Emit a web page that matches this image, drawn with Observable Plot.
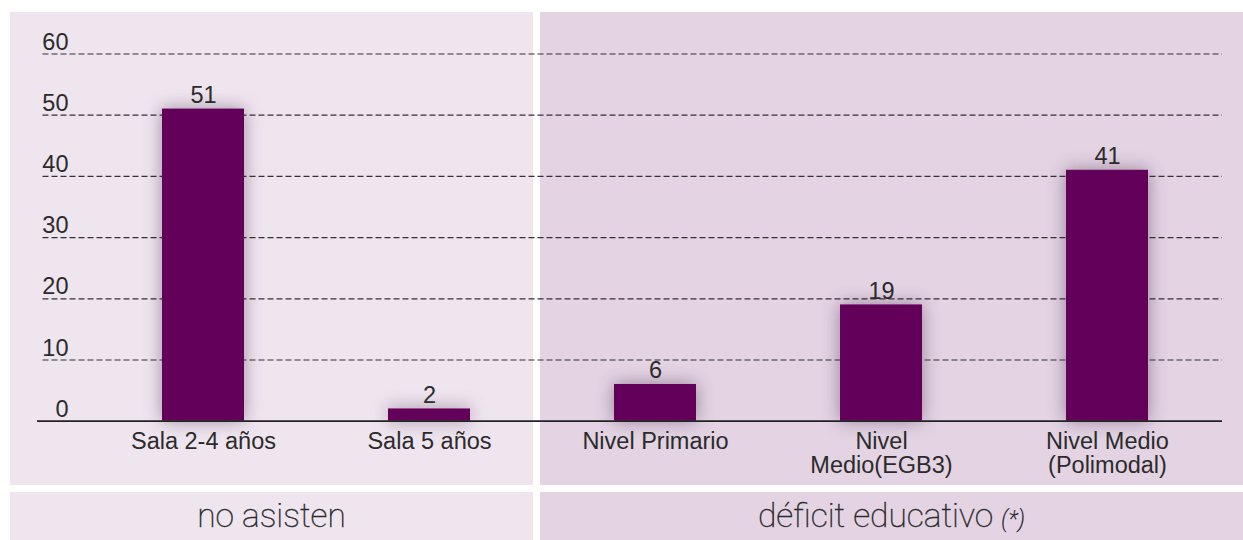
<!DOCTYPE html>
<html>
<head>
<meta charset="utf-8">
<script src="https://cdn.jsdelivr.net/npm/d3@7"></script>
<script src="https://cdn.jsdelivr.net/npm/@observablehq/plot@0.6"></script>
<style>
  body { margin: 0; background: #ffffff; }
  #wrap { position: relative; width: 1243px; height: 540px; overflow: hidden; }
  .panel { position: absolute; }
  .strip { position: absolute; text-align: center; line-height: 48px; height: 48px; top: 492px;
           font-family: Roboto, "Open Sans", sans-serif; font-weight: 100; font-size: 33.5px; color: #2a2a2a;
           -webkit-text-stroke: 0.45px #2a2a2a; }
  .strip em { font-size: 23px; font-style: italic; font-weight: 300; color: #2a2a2a; -webkit-text-stroke: 0; }
  #chart { position: absolute; left: 0; top: 0; }
</style>
</head>
<body>
<div id="wrap">
  <div class="panel" style="left:10px;top:12px;width:523px;height:473px;background:#efe5ef"></div>
  <div class="panel" style="left:540px;top:12px;width:703px;height:473px;background:#e3d3e3"></div>
  <div id="chart"></div>
  <div class="strip" id="g0" style="left:10px;width:523px;background:#efe5ef"></div>
  <div class="strip" id="g1" style="left:540px;width:703px;background:#e3d3e3"></div>
</div>
<script>
const categories = ["Sala 2-4 años", "Sala 5 años", "Nivel Primario", "Nivel\nMedio(EGB3)", "Nivel Medio\n(Polimodal)"];
const values = [51, 2, 6, 19, 41];
const yTicks = [0, 10, 20, 30, 40, 50, 60];
const gridTicks = [10, 20, 30, 40, 50, 60];
const groupLabels = ["no asisten", "déficit educativo"];
const groupNote = "(*)";

const data = categories.map((c, i) => ({category: c, value: values[i]}));
const textColor = "#2b2b2b";
const font = "'Liberation Sans', Arial, Helvetica, sans-serif";
const fs = 23.5;

const plot = Plot.plot({
  width: 1243,
  height: 485,
  marginTop: 53.5,
  marginBottom: 64.3,
  marginLeft: 37,
  marginRight: 21,
  style: {background: "transparent", fontFamily: font, fontSize: fs + "px", color: textColor, overflow: "visible"},
  x: {domain: categories, paddingInner: 0.636, paddingOuter: 0.4306, align: 0.6275, label: null},
  y: {domain: [0, 60], label: null},
  marks: [
    Plot.ruleY(gridTicks, {stroke: "#333333", strokeWidth: 1.2, strokeDasharray: "6,3", insetLeft: 5.5}),
    Plot.barY(data, {x: "category", y: "value", fill: "#630059"}),
    Plot.ruleY([0], {stroke: "#222222", strokeWidth: 1.8}),
    Plot.text(data, {x: "category", y: "value", text: d => String(d.value), lineAnchor: "bottom", dy: -6, fill: textColor, fontSize: fs}),
    Plot.axisX({tickSize: 0, tickPadding: 11.2, fontSize: fs, lineHeight: 1.0, fill: textColor, label: null}),
    Plot.axisY(yTicks, {tickSize: 0, tickPadding: 0, dx: 31, lineAnchor: "bottom", dy: -4.5, fontSize: fs, fill: textColor, label: null})
  ]
});
document.getElementById("chart").appendChild(plot);
const barG = plot.querySelector('g[aria-label="bar"]');
if (barG) barG.style.filter = "drop-shadow(0 0 9px rgba(60,30,60,0.45))";

document.getElementById("g0").textContent = groupLabels[0];
const g1 = document.getElementById("g1");
g1.textContent = groupLabels[1] + " ";
const em = document.createElement("em");
em.textContent = groupNote;
g1.appendChild(em);
</script>
</body>
</html>
